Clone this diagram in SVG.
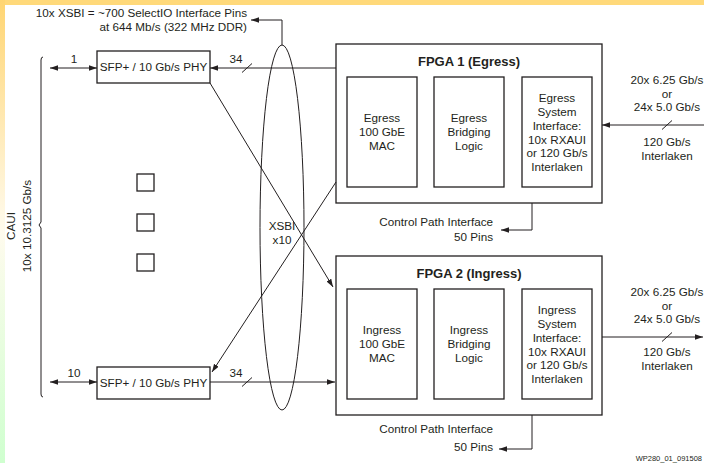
<svg xmlns="http://www.w3.org/2000/svg" width="704" height="463" viewBox="0 0 704 463">
<defs>
<linearGradient id="lb" x1="0" y1="0" x2="0" y2="1">
<stop offset="0" stop-color="#FFD572"/>
<stop offset="0.5" stop-color="#FFFBEE"/>
<stop offset="1" stop-color="#CFFFCF"/>
</linearGradient>
<marker id="ah" markerUnits="userSpaceOnUse" markerWidth="9" markerHeight="6" refX="8" refY="2.75" orient="auto-start-reverse">
<path d="M0,0 L8,2.75 L0,5.5 z" fill="#231F20"/>
</marker>
<style>
text{font-family:"Liberation Sans",Arial,sans-serif;font-size:11.7px;fill:#231F20}
.m{text-anchor:middle}
.e{text-anchor:end}
.b{font-weight:bold;font-size:13px}
.box{fill:#fff;stroke:#231F20;stroke-width:1.3}
.ln{fill:none;stroke:#231F20;stroke-width:1}
.arr{fill:none;stroke:#231F20;stroke-width:1;marker-end:url(#ah)}
.dbl{fill:none;stroke:#231F20;stroke-width:1;marker-end:url(#ah);marker-start:url(#ah)}
</style>
</defs>
<rect x="0" y="0" width="704" height="463" fill="#fff"/>
<rect x="0" y="0" width="704" height="5" fill="#FFD97A"/>
<rect x="0" y="0" width="5" height="463" fill="url(#lb)"/>

<g id="annotation">
<text class="e" x="247" y="17">10x XSBI = ~700 SelectIO Interface Pins</text>
<text class="e" x="247" y="31">at 644 Mb/s (322 MHz DDR)</text>
</g>

<g id="caui">
<path class="ln" d="M43,57 Q41,57 41,60 L41,222 L39,225 L41,228 L41,394 Q41,397 43,397"/>
<text class="m" transform="translate(15,226) rotate(-90)">CAUI</text>
<text class="m" transform="translate(31,226) rotate(-90)">10x 10.3125 Gb/s</text>
</g>

<g id="sfp1">
<rect class="box" x="97" y="51" width="113" height="32"/>
<text class="m" x="153.5" y="71">SFP+ / 10 Gb/s PHY</text>
</g>
<g id="sfp10">
<rect class="box" x="97" y="367" width="113" height="32"/>
<text class="m" x="153.5" y="387">SFP+ / 10 Gb/s PHY</text>
</g>

<g id="dots">
<rect class="box" x="137" y="174" width="17" height="17"/>
<rect class="box" x="137" y="214" width="17" height="17"/>
<rect class="box" x="137" y="254" width="17" height="17"/>
</g>

<g id="xsbi">
<ellipse class="ln" cx="282" cy="227.5" rx="22" ry="182.5" stroke-width="1.3"/>
<text class="m" x="282" y="230">XSBI</text>
<text class="m" x="282" y="244">x10</text>
</g>

<g id="fpga1">
<rect class="box" x="336" y="44" width="266" height="159"/>
<text class="m b" x="469" y="66">FPGA 1 (Egress)</text>
<rect class="box" x="347" y="77" width="70" height="110"/>
<text class="m" x="382" y="122">Egress</text>
<text class="m" x="382" y="136">100 GbE</text>
<text class="m" x="382" y="150">MAC</text>
<rect class="box" x="434" y="77" width="70" height="110"/>
<text class="m" x="469" y="122">Egress</text>
<text class="m" x="469" y="136">Bridging</text>
<text class="m" x="469" y="150">Logic</text>
<rect class="box" x="522" y="77" width="70" height="110"/>
<text class="m" x="557" y="102">Egress</text>
<text class="m" x="557" y="116">System</text>
<text class="m" x="557" y="130">Interface:</text>
<text class="m" x="557" y="144">10x RXAUI</text>
<text class="m" x="557" y="157">or 120 Gb/s</text>
<text class="m" x="557" y="171">Interlaken</text>
</g>

<g id="fpga2">
<rect class="box" x="336" y="256" width="266" height="159"/>
<text class="m b" x="469" y="278">FPGA 2 (Ingress)</text>
<rect class="box" x="347" y="289" width="70" height="110"/>
<text class="m" x="382" y="334">Ingress</text>
<text class="m" x="382" y="348">100 GbE</text>
<text class="m" x="382" y="362">MAC</text>
<rect class="box" x="434" y="289" width="70" height="110"/>
<text class="m" x="469" y="334">Ingress</text>
<text class="m" x="469" y="348">Bridging</text>
<text class="m" x="469" y="362">Logic</text>
<rect class="box" x="522" y="289" width="70" height="110"/>
<text class="m" x="557" y="314">Ingress</text>
<text class="m" x="557" y="328">System</text>
<text class="m" x="557" y="342">Interface:</text>
<text class="m" x="557" y="356">10x RXAUI</text>
<text class="m" x="557" y="369">or 120 Gb/s</text>
<text class="m" x="557" y="383">Interlaken</text>
</g>

<g id="labels">
<text class="m" x="74" y="63">1</text>
<text class="m" x="236" y="63">34</text>
<text class="m" x="74" y="377">10</text>
<text class="m" x="236" y="377">34</text>
<text class="m" x="667" y="84">20x 6.25 Gb/s</text>
<text class="m" x="667" y="97.5">or</text>
<text class="m" x="667" y="111">24x 5.0 Gb/s</text>
<text class="m" x="667" y="146">120 Gb/s</text>
<text class="m" x="667" y="160">Interlaken</text>
<text class="m" x="667" y="296">20x 6.25 Gb/s</text>
<text class="m" x="667" y="309.5">or</text>
<text class="m" x="667" y="323">24x 5.0 Gb/s</text>
<text class="m" x="667" y="356">120 Gb/s</text>
<text class="m" x="667" y="370">Interlaken</text>
<text class="e" x="493" y="226">Control Path Interface</text>
<text class="e" x="493" y="241">50 Pins</text>
<text class="e" x="493" y="433">Control Path Interface</text>
<text class="e" x="493" y="451">50 Pins</text>
<text class="e" x="702" y="461" style="font-size:7.5px">WP280_01_091508</text>
</g>

<g id="connectors">
<path class="arr" d="M282,45 L282,20 L251,20"/>
<path class="dbl" d="M50,68 L97,68"/>
<path class="arr" d="M336,68 L210,68"/>
<path class="ln" d="M242,72.5 L252,63.5"/>
<path class="dbl" d="M50,382 L97,382"/>
<path class="arr" d="M210,382 L335,382"/>
<path class="ln" d="M242,386.5 L252,377.5"/>
<path class="arr" d="M210,83 L333,287"/>
<path class="arr" d="M336,182 L212,372"/>
<path class="arr" d="M704,125 L602,125"/>
<path class="ln" d="M662,129.5 L672,120.5"/>
<path class="arr" d="M602,337 L703,337"/>
<path class="ln" d="M662,341.5 L672,332.5"/>
<path class="arr" d="M532,203 L532,230 L501,230"/>
<path class="arr" d="M532,415 L532,449 L499,449"/>
</g>
</svg>
